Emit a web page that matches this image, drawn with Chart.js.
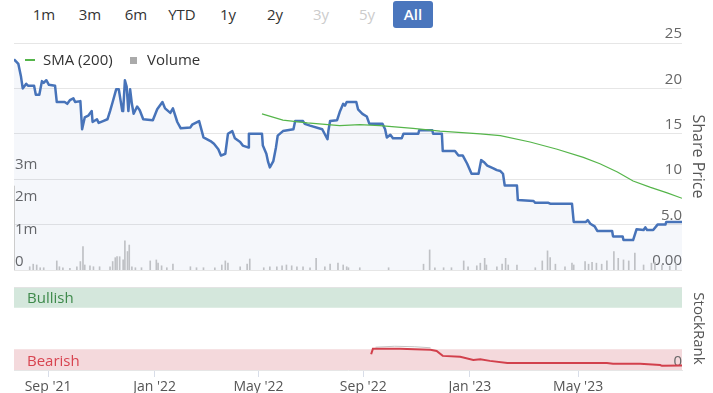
<!DOCTYPE html>
<html>
<head>
<meta charset="utf-8">
<script src="https://cdn.jsdelivr.net/npm/chart.js@4.4.1/dist/chart.umd.min.js"></script>
<style>
  body { margin: 0; width: 713px; height: 393px; position: relative; overflow: hidden; background: #fff; font-family: 'Open Sans', sans-serif; }
  .btn { position: absolute; top: 1px; width: 40px; height: 27px; line-height: 27px; text-align: center; font-size: 15px; color: #333; }
  .btn.off { color: #ccc; }
  .btn.on { background: #4a76bd; color: #fff; border-radius: 3px; font-weight: 600; }
  .lg { position: absolute; font-size: 15px; color: #333; line-height: 20px; top: 49px; }
  .lg-line { position: absolute; left: 25px; top: 59px; width: 10px; height: 2px; background: #55b54a; }
  .lg-sq { position: absolute; left: 130px; top: 57px; width: 7px; height: 7px; background: #aaa; }
  #priceBox { position: absolute; left: 0; top: 0; }
  #rankBox { position: absolute; left: 0; top: 278px; }
</style>
</head>
<body>
<div class="btn" style="left:24px">1m</div>
<div class="btn" style="left:70px">3m</div>
<div class="btn" style="left:116px">6m</div>
<div class="btn" style="left:162px">YTD</div>
<div class="btn" style="left:208px">1y</div>
<div class="btn" style="left:255px">2y</div>
<div class="btn off" style="left:301px">3y</div>
<div class="btn off" style="left:347px">5y</div>
<div class="btn on" style="left:393px">All</div>

<canvas id="priceBox" width="713" height="280"></canvas>
<canvas id="rankBox" width="713" height="115"></canvas>

<div class="lg-line"></div>
<div class="lg" style="left:43px">SMA (200)</div>
<div class="lg-sq"></div>
<div class="lg" style="left:147px">Volume</div>

<script>
// x values are days from the first point (late Jul 2021)
const xMax = 765;
const tickDays = [39, 161, 280, 400, 522, 646];
const tickLabels = ["Sep '21", "Jan '22", "May '22", "Sep '22", "Jan '23", "May '23"];

const priceDays = [0,2,5,8,10,14,16,23,25,29,32,34,37,40,47,49,58,61,64,68,70,76,78,81,85,89,90,95,97,102,107,110,113,117,120,124,125,127,129,131,133,135,137,141,144,148,159,164,170,173,179,182,187,191,202,204,212,217,225,229,234,237,242,245,250,253,259,262,268,269,284,285,289,291,293,297,300,302,308,320,322,331,333,339,353,359,360,362,370,373,377,379,381,392,394,399,404,407,422,425,427,431,434,444,446,463,464,479,480,490,491,505,509,514,519,524,532,535,538,542,549,553,557,560,562,576,577,595,597,612,614,639,641,655,657,660,665,668,685,686,697,698,709,713,721,723,725,732,737,746,747,765];
const priceValues = [23.2,23.0,22.7,21.3,20.0,20.5,20.3,20.3,19.3,19.3,20.8,20.6,20.9,20.4,20.3,18.5,18.5,18.3,18.7,18.9,18.5,18.6,15.5,16.8,17.0,17.5,16.3,16.6,16.2,16.4,16.6,17.5,18.5,19.9,19.9,17.5,17.5,20.9,20.2,17.5,19.9,18.3,17.2,18.0,17.6,16.6,16.5,17.7,18.5,17.8,17.3,17.8,16.3,15.6,15.7,16.0,16.4,14.6,14.2,13.9,13.3,12.6,12.8,15.0,15.3,14.5,14.1,13.7,13.5,15.0,15.0,13.7,12.8,11.9,11.3,12.0,13.5,14.8,15.3,15.5,16.4,16.4,16.1,15.9,15.5,14.4,15.3,16.4,16.5,17.4,18.3,18.1,18.5,18.5,17.7,17.2,16.9,16.1,16.1,15.5,14.6,14.9,14.5,14.5,15.0,15.0,15.4,15.4,15.0,15.0,13.1,13.1,12.6,12.6,11.7,10.6,10.6,12.1,11.9,11.5,11.2,11.0,10.9,10.6,9.3,9.3,7.7,7.6,7.4,7.4,7.3,7.3,5.3,5.3,5.5,5.1,4.8,4.3,4.3,3.7,3.7,3.3,3.3,4.5,4.4,4.7,4.4,4.4,5.0,5.0,5.3,5.3];

const smaDays = [284,308,336,373,396,419,457,488,534,557,591,622,652,671,691,709,729,748,765];
const smaValues = [17.2,16.5,16.2,15.9,16.0,15.9,15.6,15.3,15.0,14.8,14.1,13.3,12.4,11.7,10.8,9.8,9.1,8.5,7.9];

// volume in millions of shares
const volumeDays = [18,22,26,30,34,49,52,56,64,72,76,79,81,87,91,98,110,113,116,118,121,125,127,130,132,135,139,146,156,163,165,169,175,182,202,209,217,230,238,242,245,259,267,270,286,293,301,307,312,318,324,331,339,346,356,362,371,377,381,383,396,429,469,476,482,492,501,515,520,530,534,539,541,553,559,563,566,576,597,605,611,614,620,631,639,641,654,658,662,667,673,679,687,692,698,704,711,721,730,734,742,751,758];
const volumeValues = [0.10,0.18,0.155,0.07,0.07,0.28,0.10,0.07,0.05,0.10,0.26,0.72,0.155,0.13,0.10,0.10,0.10,0.26,0.38,0.41,0.41,0.31,0.90,0.57,0.77,0.10,0.07,0.07,0.28,0.31,0.21,0.13,0.07,0.18,0.10,0.07,0.07,0.07,0.155,0.28,0.21,0.10,0.18,0.34,0.07,0.10,0.10,0.13,0.155,0.13,0.10,0.10,0.07,0.36,0.10,0.18,0.21,0.155,0.10,0.07,0.07,0.07,0.18,0.62,0.07,0.07,0.07,0.28,0.10,0.13,0.21,0.36,0.155,0.10,0.18,0.36,0.155,0.155,0.07,0.28,0.59,0.38,0.18,0.10,0.21,0.155,0.26,0.18,0.24,0.21,0.18,0.28,0.57,0.36,0.31,0.28,0.52,0.155,0.21,0.24,0.15,0.12,0.20];

const priceTicks = [0, 5, 10, 15, 20, 25];
const priceTickLabels = ['0.00', '5.0', '10', '15', '20', '25'];
const volumeTicks = [0, 1, 2, 3];
const volumeTickLabels = ['0', '1m', '2m', '3m'];

const rankDays = [409,411,442,459,477,484,491,511,526,534,545,565,603,640,679,686,717,740,742,765];
const rankValues = [19,25.5,25.5,25,24.4,23,17,16,12,13,11,8.5,8.5,8.5,8.5,7.5,7.5,6,5,5.5];
const rankGreyDays = [414,436,459,477];
const rankGreyValues = [27.5,28.6,28,26.8];

const FONT = "'Open Sans', sans-serif";
Chart.defaults.font.family = FONT;

function pts(xs, ys) {
  return xs.map((x, i) => ({ x, y: ys[i] }));
}

const volumeLine = {
  id: 'volumeLine',
  afterDatasetsDraw(chart) {
    const { ctx, chartArea: a, scales: { vol } } = chart;
    ctx.save();
    ctx.strokeStyle = '#cccccc';
    ctx.lineWidth = 1;
    ctx.beginPath();
    ctx.moveTo(a.left + 0.5, vol.getPixelForValue(0));
    ctx.lineTo(a.left + 0.5, vol.getPixelForValue(2.6));
    ctx.stroke();
    ctx.restore();
  },
};

new Chart(document.getElementById('priceBox'), {
  type: 'line',
  data: {
    datasets: [
      {
        label: 'SMA (200)',
        data: pts(smaDays, smaValues),
        borderColor: '#55b54a',
        borderWidth: 1.2,
        pointRadius: 0,
        fill: false,
        yAxisID: 'y',
        order: 1,
      },
      {
        label: 'Share Price',
        data: pts(priceDays, priceValues),
        borderColor: '#4773b9',
        borderWidth: 2.5,
        borderJoinStyle: 'round',
        backgroundColor: 'rgba(70,110,185,0.055)',
        fill: 'origin',
        pointRadius: 0,
        tension: 0,
        yAxisID: 'y',
        order: 2,
      },
      {
        type: 'bar',
        label: 'Volume',
        data: pts(volumeDays, volumeValues),
        backgroundColor: '#c6c6c6',
        barThickness: 1,
        yAxisID: 'vol',
        order: 3,
      },
    ],
  },
  options: {
    responsive: false,
    animation: false,
    layout: { padding: { top: 43, bottom: 10, left: 0, right: 0 } },
    plugins: { legend: { display: false }, tooltip: { enabled: false } },
    scales: {
      x: { type: 'linear', min: 0, max: xMax, offset: false, display: false },
      y: {
        position: 'right',
        min: 0,
        max: 25,
        afterBuildTicks: (s) => { s.ticks = priceTicks.map((v) => ({ value: v })); },
        afterFit: (s) => { s.width = 31; },
        grid: { color: '#e6e6e6', drawTicks: false },
        border: { display: false },
        ticks: {
          mirror: true,
          padding: 0,
          labelOffset: -9,
          color: '#666',
          font: { size: 15 },
          callback: (v, i) => priceTickLabels[i],
        },
        title: {
          display: true,
          text: 'Share Price',
          color: '#555',
          font: { size: 16 },
          padding: { top: 6, bottom: 0 },
        },
      },
      vol: {
        position: 'left',
        min: 0,
        max: 7,
        afterBuildTicks: (s) => { s.ticks = volumeTicks.map((v) => ({ value: v })); },
        afterFit: (s) => { s.width = 14; },
        grid: { display: false },
        border: { display: false },
        ticks: {
          mirror: true,
          padding: 1,
          labelOffset: -8,
          color: '#666',
          font: { size: 15 },
          callback: (v, i) => volumeTickLabels[i],
        },
      },
    },
  },
  plugins: [volumeLine],
});

// bands go under the axes so the "0" label stays visible
const rankBands = {
  id: 'rankBands',
  beforeDraw(chart) {
    const { ctx, chartArea: a, scales: { y } } = chart;
    const top1 = y.getPixelForValue(100) + 1;
    const bot1 = y.getPixelForValue(75);
    const top2 = y.getPixelForValue(25);
    const bot2 = y.getPixelForValue(0);
    ctx.save();
    ctx.fillStyle = '#d4e7dc';
    ctx.fillRect(a.left, top1, a.width, bot1 - top1);
    ctx.fillStyle = '#f4d9dc';
    ctx.fillRect(a.left, top2, a.width, bot2 - top2);
    ctx.font = '15px ' + FONT;
    ctx.textBaseline = 'middle';
    ctx.fillStyle = '#3e8a4b';
    ctx.fillText('Bullish', a.left + 13, (top1 + bot1) / 2 + 1);
    ctx.fillStyle = '#d8434f';
    ctx.fillText('Bearish', a.left + 13, (top2 + bot2) / 2 + 2);
    ctx.restore();
  },
};

new Chart(document.getElementById('rankBox'), {
  type: 'line',
  data: {
    datasets: [
      {
        label: 'StockRank',
        data: pts(rankDays, rankValues),
        borderColor: '#d2404c',
        borderWidth: 2,
        pointRadius: 0,
        fill: false,
        order: 1,
      },
      {
        label: 'Rank (prev)',
        data: pts(rankGreyDays, rankGreyValues),
        borderColor: '#c4c4c4',
        borderWidth: 1,
        pointRadius: 0,
        fill: false,
        order: 2,
      },
    ],
  },
  options: {
    responsive: false,
    animation: false,
    layout: { padding: { top: 0, bottom: 0, left: 14, right: 0 } },
    plugins: { legend: { display: false }, tooltip: { enabled: false } },
    scales: {
      x: {
        type: 'linear',
        min: 0,
        max: xMax,
        afterBuildTicks: (s) => { s.ticks = tickDays.map((v) => ({ value: v })); },
        afterFit: (s) => { s.height = 23; },
        grid: { drawOnChartArea: false, tickLength: 7, color: '#d8dde8' },
        border: { display: true, color: '#e6e6e6' },
        ticks: {
          autoSkip: false,
          maxRotation: 0,
          padding: 2,
          color: '#555',
          font: { size: 14 },
          callback: (v, i) => tickLabels[i],
        },
      },
      y: {
        position: 'right',
        min: 0,
        max: 100,
        afterBuildTicks: (s) => { s.ticks = [{ value: 0 }, { value: 100 }]; },
        afterFit: (s) => { s.width = 31; },
        grid: {
          drawTicks: false,
          color: (c) => (c.tick && c.tick.value === 100 ? '#e3e3e3' : 'rgba(0,0,0,0)'),
        },
        border: { display: false },
        ticks: {
          mirror: true,
          padding: 0,
          labelOffset: -8,
          color: '#666',
          font: { size: 15 },
          callback: (v) => (v === 0 ? '0' : ''),
        },
        title: {
          display: true,
          text: 'StockRank',
          color: '#555',
          font: { size: 15 },
          padding: { top: 6, bottom: 0 },
        },
      },
    },
  },
  plugins: [rankBands],
});
</script>
</body>
</html>
